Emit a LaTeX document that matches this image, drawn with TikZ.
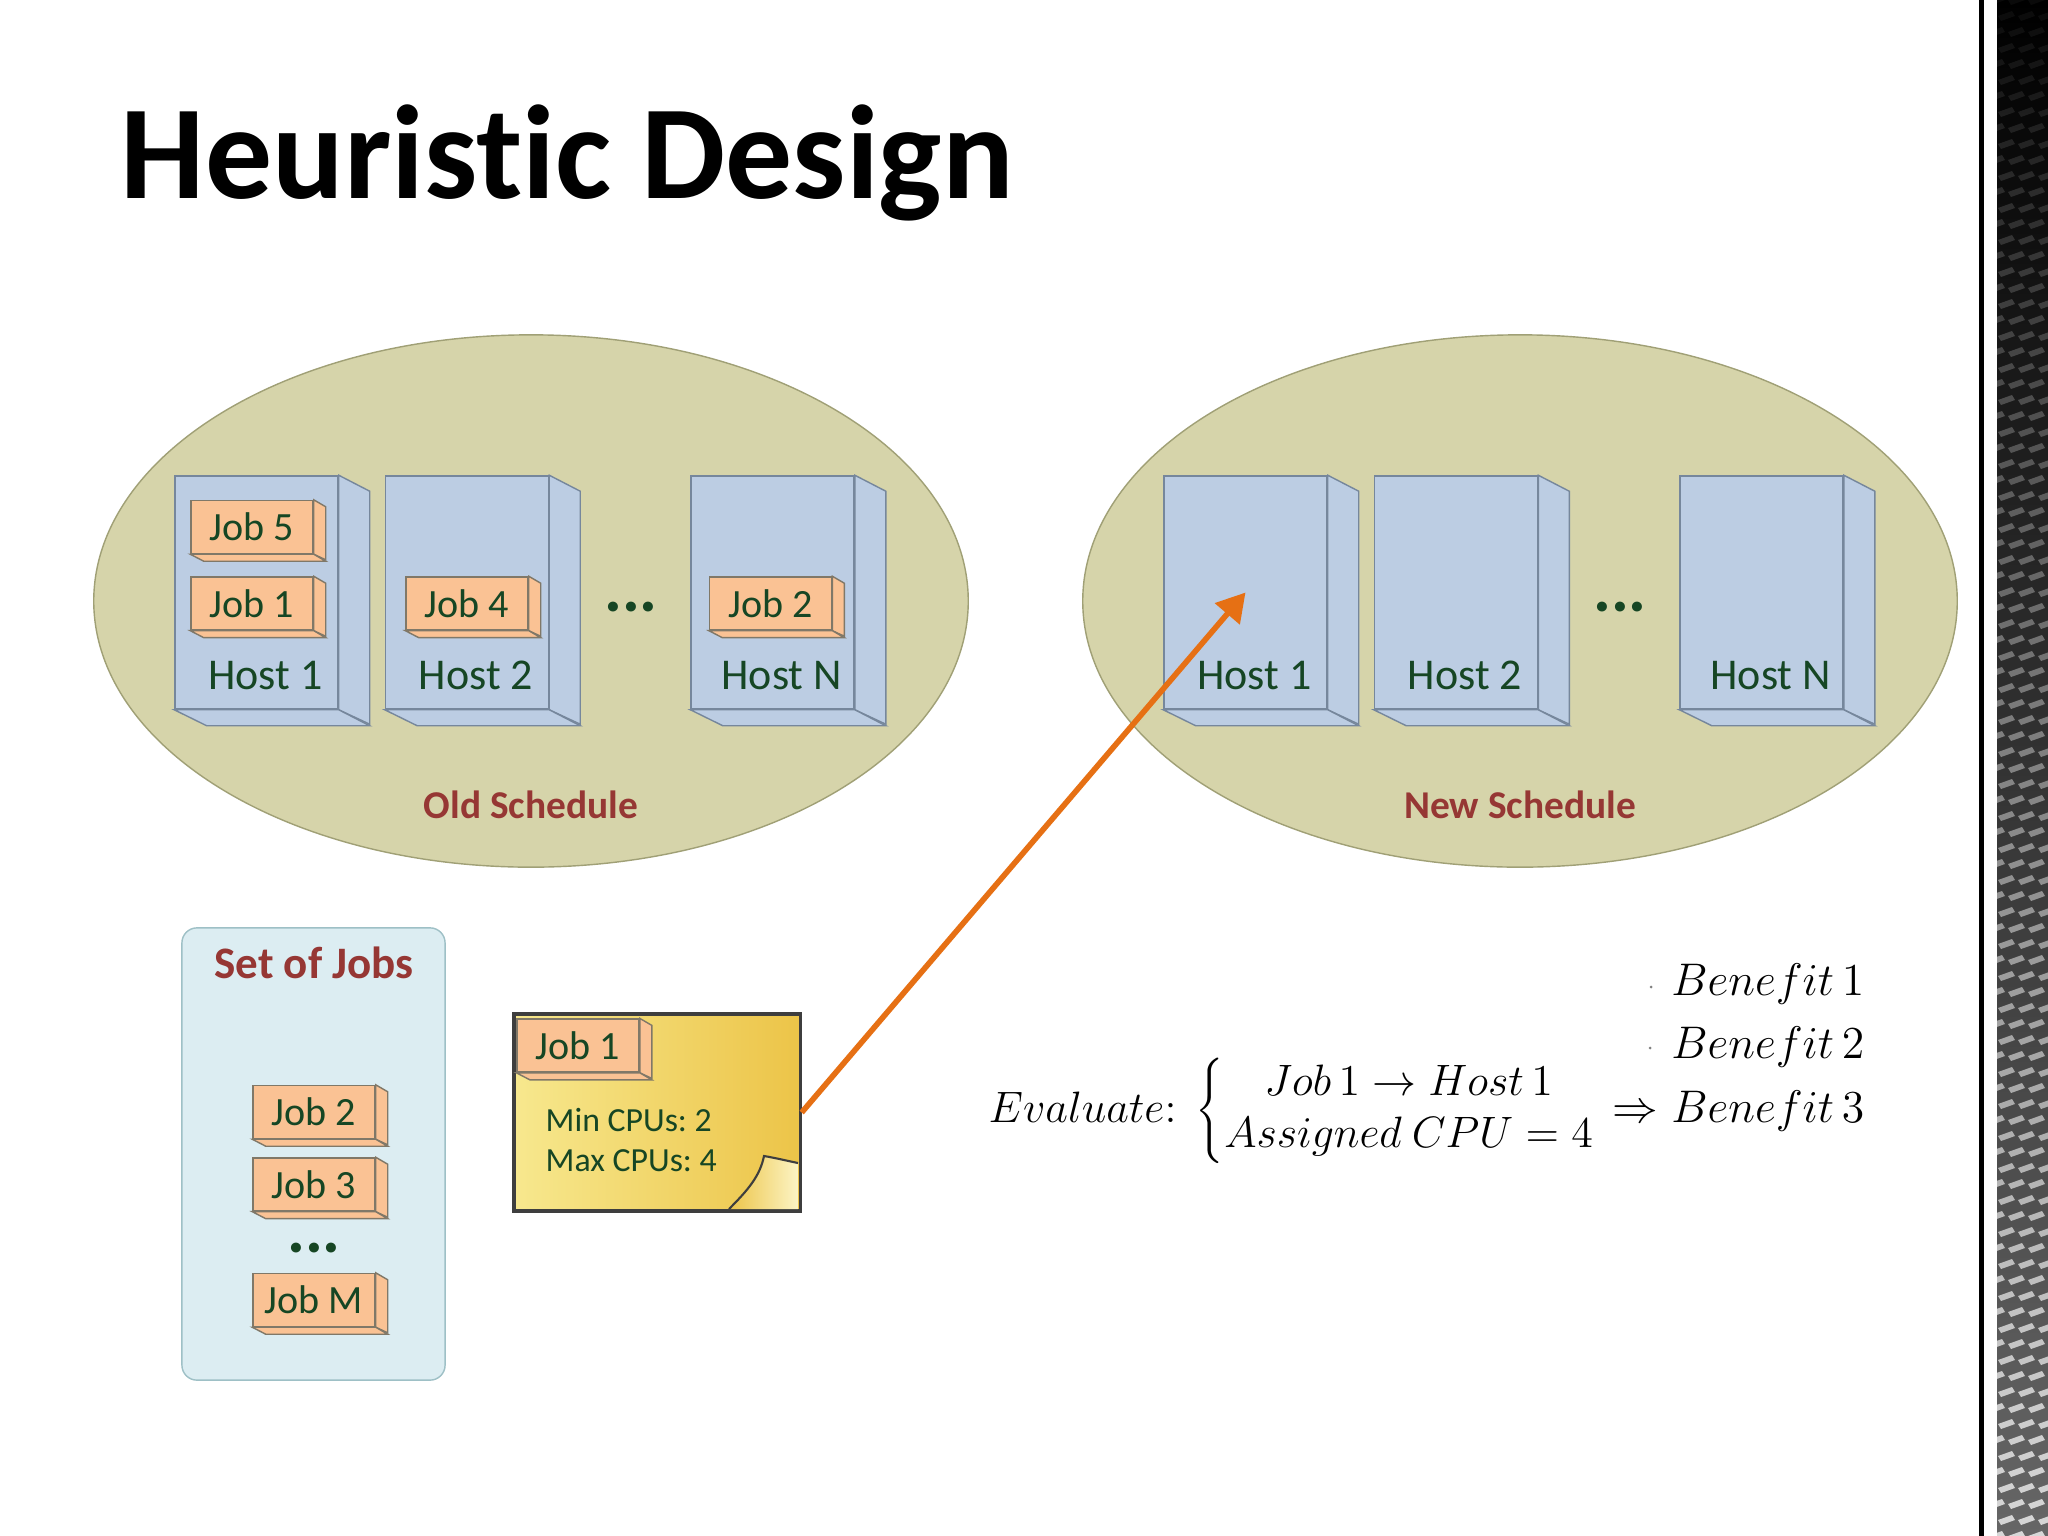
\RequirePackage{fix-cm}
\documentclass[tikz,border=0pt]{standalone}
\usepackage{fontspec}
\setmainfont{Carlito}[Ligatures=NoCommon]
\frenchspacing
\usetikzlibrary{positioning,shapes.geometric,arrows.meta}
\definecolor{schedfill}{RGB}{214,212,170}
\definecolor{schedline}{RGB}{160,160,118}
\definecolor{hostfill}{RGB}{188,205,227}
\definecolor{hostline}{RGB}{118,135,156}
\definecolor{jobfill}{RGB}{250,194,148}
\definecolor{jobline}{RGB}{128,120,104}
\definecolor{setfill}{RGB}{220,237,242}
\definecolor{setline}{RGB}{158,192,198}
\definecolor{dkgreen}{RGB}{22,70,36}
\definecolor{dkred}{RGB}{150,55,52}
\definecolor{arrorange}{RGB}{230,112,20}
\definecolor{notelite}{RGB}{247,232,142}
\definecolor{notedark}{RGB}{236,196,72}
\definecolor{notebdr}{RGB}{62,62,62}
\definecolor{curllite}{RGB}{252,244,196}

\begin{document}
\begin{tikzpicture}[x =0.01cm ,y =-0.01cm ,
every node/.style ={inner sep =0pt},
sched/.style ={ellipse ,draw =schedline ,fill =schedfill ,minimum width =8.74cm ,minimum height =5.32cm},
host/.style ={draw =hostline ,fill =hostfill ,minimum width =1.63cm ,minimum height =2.33cm},
job/.style ={draw =jobline ,fill =jobfill ,minimum width =1.22cm ,minimum height =0.53cm ,
  text =dkgreen ,font =\fontsize{11.4}{13}\selectfont},
hostlbl/.style ={anchor =base ,text =dkgreen ,font =\fontsize{12.5}{15}\selectfont},
schedlbl/.style ={text =dkred ,font =\fontsize{11.2}{13}\selectfont\bfseries},
dots/.style ={text =dkgreen ,font =\fontsize{19}{20}\selectfont\bfseries},
mathtxt/.style ={font =\fontsize{13}{15.5}\selectfont},
assign/.style ={-{Triangle[length=8pt,width=9pt]} ,draw =arrorange ,line width =1.6pt}]
\useasboundingbox (0,0) rectangle (2048,1536);
\fill[white] (0,0) rectangle (2048,1536);
\node[anchor =base west ,font =\fontsize{38}{44}\selectfont\bfseries] (title) at (120,198) {Heuristic Design};

\node[sched] (olds) at (531,601) {};
\node[sched] (news) at (1520,601) {};
\node[host] (oh1) at (256.5,592.5) {};
\node[host,right =0.46cm of oh1] (oh2) {};
\node[host,right =1.41cm of oh2] (ohn) {};
\node[host] (nh1) at (1245.5,592.5) {};
\node[host,right =0.46cm of nh1] (nh2) {};
\node[host,right =1.41cm of nh2] (nhn) {};
\foreach \h in {oh1,oh2,ohn,nh1,nh2,nhn}{
  \draw[hostline,fill =hostfill] (\h.north east) -- ++(31,16) -- ++(0,233) -- (\h.south east) -- cycle;
  \draw[hostline,fill =hostfill] (\h.south west) -- (\h.south east) -- ++(31,16) -- ++(-163,0) -- cycle;
}
\foreach \h/\t in {oh1/1,oh2/2,ohn/N,nh1/1,nh2/2,nhn/N}
  \node[hostlbl] (\h-lbl) at ([shift={(9,-20)}]\h.south) {Host \t};
\node[job] (oj5) at (252,527) {Job 5};
\node[job,below =0.22cm of oj5] (oj1) {Job 1};
\node[job] (oj4) at (oh2 |- oj1) {Job 4};
\node[job] (oj2) at ([xshift=-0.02cm]ohn |- oj1) {Job 2};
\node[dots] (odots) at (631,607) {...};
\node[dots] (ndots) at (1620,607) {...};
\node[schedlbl] (oldl) at (531,805) {Old Schedule};
\node[schedlbl] (newl) at (1520,805) {New Schedule};

\node[draw =setline ,fill =setfill ,rounded corners =0.15cm ,minimum width =2.63cm ,minimum height =4.52cm] (jobset) at (313.5,1154) {};
\node[text =dkred ,font =\fontsize{12.8}{15}\selectfont\bfseries] (setl) at (314,963) {Set of Jobs};
\node[job] (sj2) at (314,1112) {Job 2};
\node[job,below =0.18cm of sj2] (sj3) {Job 3};
\node[dots] (sdots) at (314,1248) {...};
\node[job] (sjm) at (314,1300) {Job M};

\node[draw =notebdr ,line width =0.9pt ,left color =notelite ,right color =notedark ,
  minimum width =2.86cm ,minimum height =1.97cm] (note) at (657,1112.5) {};
\shade[left color =notedark ,right color =curllite] (729,1209) .. controls (748,1190) and (760,1176) .. (764,1156)
  .. controls (776,1158) and (788,1161) .. (798,1163) -- (798,1209) -- cycle;
\draw[notebdr,line width =0.6pt] (729,1209) .. controls (748,1190) and (760,1176) .. (764,1156)
  .. controls (776,1158) and (788,1161) .. (798,1163);
\node[job,anchor =north west] (nj1) at ([shift={(4,6)}]note.north west) {Job 1};
\node[anchor =west ,align =left ,text =dkgreen ,font =\fontsize{9.6}{11.4}\selectfont] (cpus) at (545,1140) {Min CPUs: 2\\Max CPUs: 4};
\foreach \j in {oj5,oj1,oj4,oj2,sj2,sj3,sjm,nj1}{
  \draw[jobline,fill =jobfill] (\j.north east) -- ++(12,7) -- ++(0,53) -- (\j.south east) -- cycle;
  \draw[jobline,fill =jobfill] (\j.south west) -- (\j.south east) -- ++(12,7) -- ++(-122,0) -- cycle;
}
\draw[assign] (note.east) -- (nh1.center);

\node[mathtxt,font =\fontsize{12.5}{15}\selectfont,anchor =base west] (evalx) at (988,1122)
  {$Evaluate{:}\;\left\{\begin{array}{@{}c@{}} Job\,1\rightarrow Host\,1\\ Assigned\ CPU=4\end{array}\right.$};
\node[mathtxt,anchor =base east] (ben1) at (1865,995) {$Benefit\,1$};
\node[mathtxt,anchor =base east] (ben2) at (1865,1058) {$Benefit\,2$};
\node[mathtxt,anchor =base east] (ben3) at (1865,1122) {$\Rightarrow Benefit\,3$};
\fill[gray] (1651,987) circle (1.5);
\fill[gray] (1650,1048) circle (1.5);

\fill[black] (1979,0) rectangle (1984,1536);
\begin{scope}
\clip (1997,0) rectangle (2048,1536);
\shade[top color =black ,bottom color =black!60] (1997,0) rectangle (2048,1536);
\foreach \r in {0,...,96}{
  \pgfmathsetmacro\op{0.04+0.7*\r/96}
  \foreach \c in {0,...,3}
    \fill[white,opacity =\op] ({1988+\c*20+10*mod(\r,2)},{\r*16}) -- ++(14,-5) -- ++(3,5) -- ++(-14,5) -- cycle;
}
\end{scope}
\end{tikzpicture}
\end{document}
